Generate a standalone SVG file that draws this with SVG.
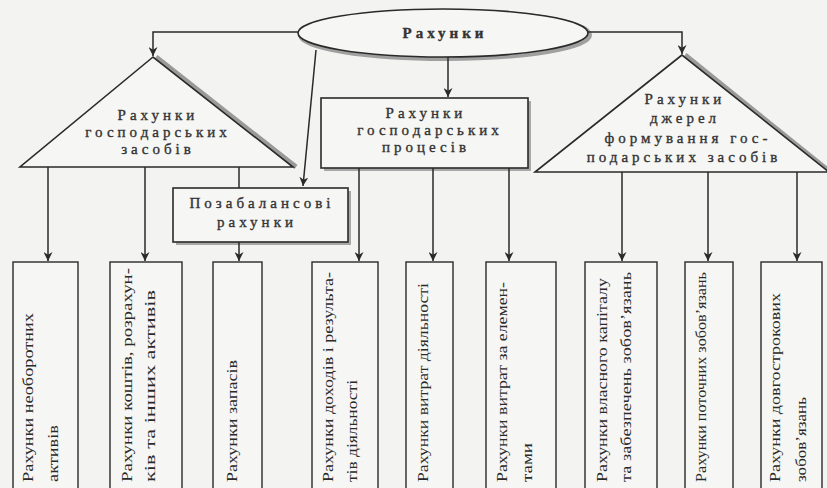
<svg xmlns="http://www.w3.org/2000/svg" width="827" height="488" viewBox="0 0 827 488">
<defs>
<style>
.bg{fill:#f3f3f1}
.sh{fill:none;stroke:#9a9a9a;stroke-width:5}
.nd{fill:#f6f6f4;stroke:#2a2a2a;stroke-width:1.6}
.bx{fill:#f6f6f4;stroke:#2a2a2a;stroke-width:1.4}
.cn{fill:none;stroke:#2a2a2a;stroke-width:1.5}
.hd{font-size:15px;fill:#333;stroke:#333;stroke-width:0.35;letter-spacing:4px;text-anchor:middle}
.vt{font-size:15px;fill:#2a2a2a}
</style>
<marker id="a" viewBox="0 0 10 10" refX="10" refY="5" markerWidth="9" markerHeight="9" markerUnits="userSpaceOnUse" orient="auto">
<path d="M0,0 L10,5 L0,10 L3,5 Z" fill="#2a2a2a"/>
</marker>
</defs>
<rect class="bg" x="0" y="0" width="827" height="488"/>
<g font-family="'Liberation Serif', 'Times New Roman', 'DejaVu Serif', serif">

<g id="root">
<ellipse cx="445" cy="35" rx="145" ry="24" fill="none" stroke="#a0a0a0" stroke-width="4"/>
<ellipse class="nd" cx="443" cy="33" rx="145" ry="24"/>
<text class="hd" x="445" y="38" font-weight="bold" letter-spacing="5">Рахунки</text>
</g>

<g id="assets">
<line class="sh" x1="156" y1="57" x2="296" y2="167"/>
<polygon class="nd" points="153,57 20,167 293,167"/>
<text class="hd" x="158" y="120">Рахунки</text>
<text class="hd" x="158" y="137">господарських</text>
<text class="hd" x="158" y="154">засобів</text>
</g>

<g id="offbalance">
<rect x="176" y="191" width="175" height="54" fill="#a8a8a8"/>
<rect class="nd" x="173" y="188" width="175" height="54"/>
<text class="hd" x="262" y="208">Позабалансові</text>
<text class="hd" x="257" y="227">рахунки</text>
</g>

<g id="processes">
<rect x="324" y="101" width="207" height="70" fill="#a8a8a8"/>
<rect class="nd" x="321" y="98" width="207" height="70"/>
<text class="hd" x="426" y="118">Рахунки</text>
<text class="hd" x="430" y="135">господарських</text>
<text class="hd" x="426" y="152">процесів</text>
</g>

<g id="sources">
<line class="sh" x1="685" y1="55" x2="830" y2="172"/>
<polygon class="nd" points="682,55 535,172 829,172"/>
<text class="hd" x="685" y="104">Рахунки</text>
<text class="hd" x="685" y="123">джерел</text>
<text class="hd" x="688" y="143">формування гос-</text>
<text class="hd" x="684" y="162">подарських засобів</text>
</g>

<g id="connectors">
<polyline class="cn" points="298,32 153,32 153,56" marker-end="url(#a)"/>
<polyline class="cn" points="316,50 303,186" marker-end="url(#a)"/>
<polyline class="cn" points="448,57 448,97" marker-end="url(#a)"/>
<polyline class="cn" points="588,32 682,32 682,54" marker-end="url(#a)"/>
<polyline class="cn" points="48,167 48,261" marker-end="url(#a)"/>
<polyline class="cn" points="145,167 145,261" marker-end="url(#a)"/>
<polyline class="cn" points="239,167 239,188"/>
<polyline class="cn" points="239,242 239,261" marker-end="url(#a)"/>
<polyline class="cn" points="359,168 359,261" marker-end="url(#a)"/>
<polyline class="cn" points="433,168 433,261" marker-end="url(#a)"/>
<polyline class="cn" points="509,168 509,261" marker-end="url(#a)"/>
<polyline class="cn" points="622,172 622,261" marker-end="url(#a)"/>
<polyline class="cn" points="708,172 708,261" marker-end="url(#a)"/>
<polyline class="cn" points="797,172 797,261" marker-end="url(#a)"/>
</g>

<g id="b1"><rect class="bx" x="13" y="262" width="65" height="240"/>
<text class="vt" transform="translate(33,482) rotate(-90)" textLength="169" lengthAdjust="spacingAndGlyphs">Рахунки необоротних</text>
<text class="vt" transform="translate(58,482) rotate(-90)" textLength="57" lengthAdjust="spacingAndGlyphs">активів</text></g>

<g id="b2"><rect class="bx" x="110" y="262" width="72" height="240"/>
<text class="vt" transform="translate(132,482) rotate(-90)" textLength="214" lengthAdjust="spacingAndGlyphs">Рахунки коштів, розрахун-</text>
<text class="vt" transform="translate(155,482) rotate(-90)" textLength="192" lengthAdjust="spacingAndGlyphs">ків та інших активів</text></g>

<g id="b3"><rect class="bx" x="213" y="262" width="49" height="240"/>
<text class="vt" transform="translate(237,482) rotate(-90)" textLength="122" lengthAdjust="spacingAndGlyphs">Рахунки запасів</text></g>

<g id="b4"><rect class="bx" x="312" y="262" width="66" height="240"/>
<text class="vt" transform="translate(333,482) rotate(-90)" textLength="210" lengthAdjust="spacingAndGlyphs">Рахунки доходів і результа-</text>
<text class="vt" transform="translate(357,482) rotate(-90)" textLength="102" lengthAdjust="spacingAndGlyphs">тів діяльності</text></g>

<g id="b5"><rect class="bx" x="406" y="262" width="47" height="240"/>
<text class="vt" transform="translate(428,482) rotate(-90)" textLength="199" lengthAdjust="spacingAndGlyphs">Рахунки витрат діяльності</text></g>

<g id="b6"><rect class="bx" x="486" y="262" width="70" height="240"/>
<text class="vt" transform="translate(507,482) rotate(-90)" textLength="200" lengthAdjust="spacingAndGlyphs">Рахунки витрат за елемен-</text>
<text class="vt" transform="translate(532,482) rotate(-90)" textLength="39" lengthAdjust="spacingAndGlyphs">тами</text></g>

<g id="b7"><rect class="bx" x="585" y="262" width="72" height="240"/>
<text class="vt" transform="translate(607,482) rotate(-90)" textLength="204" lengthAdjust="spacingAndGlyphs">Рахунки власного капіталу</text>
<text class="vt" transform="translate(631,482) rotate(-90)" textLength="210" lengthAdjust="spacingAndGlyphs">та забезпечень зобов’язань</text></g>

<g id="b8"><rect class="bx" x="685" y="262" width="48" height="240"/>
<text class="vt" transform="translate(706,482) rotate(-90)" textLength="210" lengthAdjust="spacingAndGlyphs">Рахунки поточних зобов’язань</text></g>

<g id="b9"><rect class="bx" x="761" y="262" width="61" height="240"/>
<text class="vt" transform="translate(780,482) rotate(-90)" textLength="189" lengthAdjust="spacingAndGlyphs">Рахунки довгострокових</text>
<text class="vt" transform="translate(806,482) rotate(-90)" textLength="85" lengthAdjust="spacingAndGlyphs">зобов’язань</text></g>
</g>
</svg>
